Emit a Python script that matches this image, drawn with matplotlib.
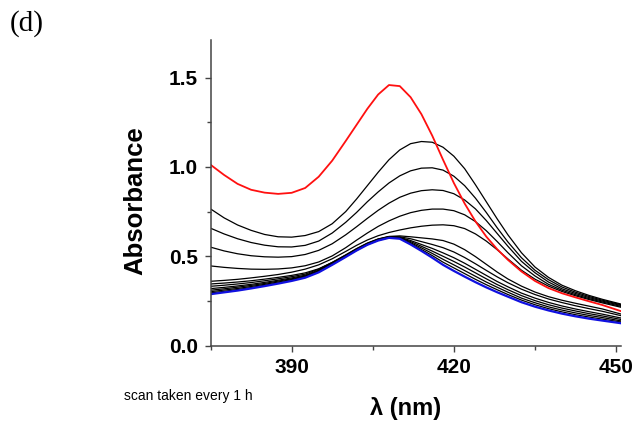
import numpy as np
import matplotlib
matplotlib.use("Agg")
import matplotlib.pyplot as plt
from matplotlib.ticker import MultipleLocator

# wavelength (nm), denser sampling around the bands
wl = [375, 377.5, 380, 382.5, 385, 387.5, 390, 392.5, 395, 397.5,
      400, 402, 404, 406, 408, 410, 412, 414, 416, 418,
      420, 422, 424, 426, 428, 430, 432.5, 435, 437.5, 440,
      442.5, 445, 447.5, 451]

# first scan (red)
a_start = [1.012, 0.955, 0.905, 0.872, 0.856, 0.849, 0.855, 0.882, 0.945, 1.035,
           1.145, 1.235, 1.325, 1.405, 1.458, 1.452, 1.390, 1.295, 1.175, 1.040,
           0.910, 0.795, 0.695, 0.610, 0.540, 0.480, 0.415, 0.362, 0.322, 0.293,
           0.270, 0.248, 0.227, 0.192]

# scans in between (black), top to bottom
a_1 = [0.765, 0.715, 0.675, 0.645, 0.622, 0.609, 0.607, 0.616, 0.638, 0.682,
       0.750, 0.820, 0.895, 0.970, 1.040, 1.095, 1.130, 1.142, 1.138, 1.110,
       1.060, 0.990, 0.900, 0.805, 0.710, 0.620, 0.520, 0.440, 0.382, 0.338,
       0.307, 0.281, 0.259, 0.232]
a_2 = [0.657, 0.625, 0.598, 0.577, 0.562, 0.553, 0.552, 0.561, 0.585, 0.630,
       0.690, 0.745, 0.805, 0.860, 0.910, 0.950, 0.978, 0.993, 0.995, 0.982,
       0.948, 0.895, 0.825, 0.745, 0.660, 0.580, 0.492, 0.422, 0.369, 0.328,
       0.299, 0.275, 0.254, 0.228]
a_3 = [0.551, 0.530, 0.514, 0.503, 0.497, 0.495, 0.498, 0.510, 0.533, 0.570,
       0.620, 0.665, 0.712, 0.757, 0.797, 0.830, 0.853, 0.867, 0.872, 0.868,
       0.850, 0.815, 0.765, 0.700, 0.628, 0.556, 0.472, 0.408, 0.356, 0.318,
       0.292, 0.269, 0.249, 0.224]
a_4 = [0.446, 0.438, 0.432, 0.428, 0.427, 0.429, 0.435, 0.447, 0.468, 0.502,
       0.548, 0.590, 0.630, 0.667, 0.698, 0.724, 0.744, 0.757, 0.764, 0.764,
       0.755, 0.732, 0.694, 0.643, 0.583, 0.520, 0.447, 0.390, 0.343, 0.310,
       0.285, 0.263, 0.244, 0.219]
a_5 = [0.360, 0.365, 0.371, 0.379, 0.388, 0.398, 0.411, 0.428, 0.452, 0.486,
       0.527, 0.561, 0.591, 0.615, 0.633, 0.647, 0.659, 0.668, 0.674, 0.676,
       0.671, 0.655, 0.625, 0.585, 0.537, 0.485, 0.422, 0.372, 0.333, 0.303,
       0.279, 0.258, 0.239, 0.214]
a_6 = [0.345, 0.350, 0.356, 0.363, 0.372, 0.382, 0.393, 0.407, 0.430, 0.465,
       0.508, 0.543, 0.574, 0.597, 0.611, 0.614, 0.609, 0.603, 0.597, 0.588,
       0.568, 0.537, 0.498, 0.455, 0.412, 0.373, 0.333, 0.300, 0.274, 0.254,
       0.237, 0.221, 0.205, 0.176]
a_7 = [0.332, 0.338, 0.345, 0.353, 0.363, 0.374, 0.386, 0.400, 0.428, 0.466,
       0.506, 0.541, 0.572, 0.596, 0.610, 0.609, 0.598, 0.582, 0.566, 0.548,
       0.524, 0.493, 0.458, 0.421, 0.385, 0.352, 0.316, 0.286, 0.261, 0.241,
       0.223, 0.207, 0.192, 0.167]
a_8 = [0.319, 0.326, 0.334, 0.343, 0.354, 0.366, 0.379, 0.394, 0.423, 0.462,
       0.503, 0.538, 0.570, 0.594, 0.608, 0.606, 0.588, 0.566, 0.544, 0.519,
       0.492, 0.461, 0.427, 0.393, 0.359, 0.329, 0.294, 0.266, 0.242, 0.222,
       0.205, 0.190, 0.176, 0.154]
a_9 = [0.310, 0.318, 0.327, 0.337, 0.348, 0.361, 0.374, 0.390, 0.419, 0.459,
       0.501, 0.536, 0.568, 0.592, 0.607, 0.604, 0.582, 0.556, 0.529, 0.500,
       0.471, 0.440, 0.407, 0.374, 0.342, 0.313, 0.280, 0.252, 0.229, 0.210,
       0.194, 0.179, 0.166, 0.146]
a_10 = [0.302, 0.311, 0.320, 0.331, 0.343, 0.356, 0.370, 0.386, 0.416, 0.456,
        0.499, 0.535, 0.567, 0.591, 0.605, 0.602, 0.576, 0.547, 0.516, 0.483,
        0.452, 0.420, 0.388, 0.356, 0.327, 0.299, 0.266, 0.240, 0.217, 0.199,
        0.183, 0.169, 0.157, 0.138]
a_11 = [0.295, 0.304, 0.314, 0.325, 0.338, 0.351, 0.366, 0.383, 0.413, 0.454,
        0.498, 0.533, 0.565, 0.589, 0.604, 0.600, 0.571, 0.538, 0.504, 0.467,
        0.435, 0.403, 0.371, 0.341, 0.313, 0.286, 0.255, 0.229, 0.207, 0.189,
        0.173, 0.160, 0.148, 0.132]

# last scan (blue)
a_end = [0.288, 0.298, 0.308, 0.320, 0.333, 0.347, 0.362, 0.380, 0.410, 0.452,
         0.496, 0.532, 0.564, 0.588, 0.603, 0.598, 0.566, 0.530, 0.492, 0.452,
         0.418, 0.386, 0.355, 0.326, 0.299, 0.274, 0.243, 0.218, 0.197, 0.179,
         0.164, 0.151, 0.140, 0.125]

middle = [a_1, a_2, a_3, a_4, a_5, a_6, a_7, a_8, a_9, a_10, a_11]

plt.rcParams['font.family'] = ['Liberation Sans', 'DejaVu Sans']

fig = plt.figure(figsize=(6.4, 4.21), dpi=100)
ax = fig.add_axes([0.329, 0.179, 0.642, 0.726])

for a in middle:
    ax.plot(wl, a, color='black', lw=0.9)
ax.plot(wl, a_end, color='#1010e0', lw=1.6)
ax.plot(wl, a_start, color='#ff1010', lw=1.3)

ax.set_xlim(375, 451)
ax.set_ylim(0, 1.71)
ax.xaxis.set_minor_locator(MultipleLocator(15))
ax.set_xticks([390, 420, 450])
ax.yaxis.set_major_locator(MultipleLocator(0.5))
ax.yaxis.set_minor_locator(MultipleLocator(0.25))
ax.yaxis.set_major_formatter(plt.FormatStrFormatter('%.1f'))

for s in ['top', 'right']:
    ax.spines[s].set_visible(False)
for s in ['left', 'bottom']:
    ax.spines[s].set_color('#444444')
    ax.spines[s].set_linewidth(1.1)

ax.tick_params(which='major', direction='out', length=4, width=1, color='#444444',
               labelsize=15, pad=5)
ax.tick_params(which='minor', direction='out', length=3, width=1, color='#444444')
for lbl in ax.get_xticklabels() + ax.get_yticklabels():
    lbl.set_fontweight('bold')

fig.text(135 / 640, 1 - 201 / 421, 'Absorbance', rotation=90, ha='center', va='center',
         fontsize=18.5, fontweight='bold')
fig.text(406 / 640, 6 / 421, 'λ (nm)', ha='center', va='baseline',
         fontsize=17, fontweight='bold')
fig.text(124 / 640, 0.05, 'scan taken every 1 h', ha='left', va='baseline', fontsize=10)
fig.text(10 / 640, 1 - 10 / 421, '(d)', ha='left', va='top', fontsize=21,
         family='Liberation Serif')

fig.savefig('out.png', dpi=100)
